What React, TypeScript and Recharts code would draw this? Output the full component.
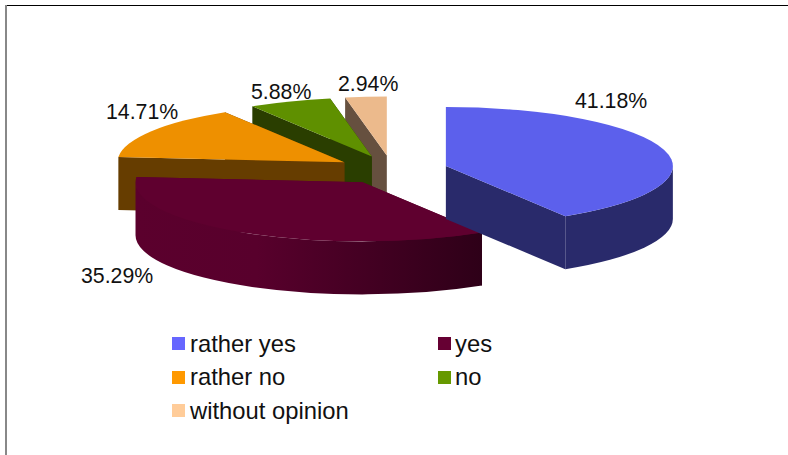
import { PieChart, Pie, Legend } from "recharts";

const categories = ["rather yes", "yes", "rather no", "no", "without opinion"];
const shares = [41.18, 35.29, 14.71, 5.88, 2.94];
const legendColors = ["#6666ff", "#660033", "#ff9900", "#669900", "#ffcc99"];
const topColors = ["#5c60ec", "#5f002f", "#ee9000", "#5f9000", "#ecba8c"];
const wallColors = ["#292a6b", "#5b002d", "#663d00", "#2a3e00", "#66503f"];

// label anchor (left, baseline) per category
const labelSpots = [
  [575, 108],
  [81, 283],
  [106, 119],
  [251, 99],
  [338, 91],
];

const RX = 227;
const RY = 59;
const DEPTH = 53;
const EXPLODE = 56;

// painted back to front, so the slices run counter-clockwise from the last category
const rows = categories
  .map((name, i) => ({
    name,
    value: shares[i],
    top: topColors[i],
    wall: wallColors[i],
    spot: labelSpots[i],
  }))
  .reverse();

const rad = (deg: number) => (deg * Math.PI) / 180;

const Slice3D = (props: any) => {
  const { cx, cy, startAngle, endAngle, payload } = props;
  const lo = Math.min(startAngle, endAngle);
  const hi = Math.max(startAngle, endAngle);
  const mid = rad((lo + hi) / 2);
  const ox = cx + EXPLODE * Math.cos(mid);
  const oy = cy - (EXPLODE * RY * Math.sin(mid)) / RX;
  const px = (a: number) => ox + RX * Math.cos(rad(a));
  const py = (a: number) => oy - RY * Math.sin(rad(a));
  const arc = (from: number, to: number, dy: number, sweep: number) =>
    `A${RX} ${RY} 0 ${Math.abs(to - from) > 180 ? 1 : 0} ${sweep} ${px(to)} ${py(to) + dy}`;

  const radialWall = (a: number) =>
    `M${ox} ${oy}L${px(a)} ${py(a)}L${px(a)} ${py(a) + DEPTH}L${ox} ${oy + DEPTH}Z`;

  // only the lower half of the rim faces the viewer
  const frontLo = Math.max(lo, 180);
  const frontHi = Math.min(hi, 360);
  const rim =
    frontHi > frontLo
      ? `M${px(frontLo)} ${py(frontLo)}${arc(frontLo, frontHi, 0, 0)}` +
        `L${px(frontHi)} ${py(frontHi) + DEPTH}${arc(frontHi, frontLo, DEPTH, 1)}Z`
      : null;
  const rimFill = payload.name === "yes" ? "url(#yesRim)" : payload.wall;

  return (
    <g>
      <path d={radialWall(lo)} fill={payload.wall} />
      <path d={radialWall(hi)} fill={payload.wall} />
      {rim && <path d={rim} fill={rimFill} />}
      <path d={`M${ox} ${oy}L${px(lo)} ${py(lo)}${arc(lo, hi, 0, 0)}Z`} fill={payload.top} />
    </g>
  );
};

const renderLabel = (props: any) => {
  const { payload, value } = props;
  return (
    <text
      x={payload.spot[0]}
      y={payload.spot[1]}
      fontSize={21.3}
      fontFamily="Liberation Sans"
      fill="#111"
      textAnchor="start"
    >
      {value.toFixed(2)}%
    </text>
  );
};

const ChartLegend = () => (
  <div
    style={{
      display: "grid",
      gridTemplateColumns: "266px 100px",
      gridAutoRows: "33.5px",
      fontFamily: "Liberation Sans",
      fontSize: 23.8,
      color: "#111",
    }}
  >
    {categories.map((name, i) => (
      <div key={name} style={{ display: "flex", alignItems: "center", whiteSpace: "nowrap" }}>
        <span style={{ width: 13, height: 13, background: legendColors[i], marginRight: i % 2 ? 4 : 5 }} />
        {name}
      </div>
    ))}
  </div>
);

export default function App() {
  return (
    <div style={{ position: "absolute", left: 0, top: 0, width: 788, height: 455, background: "#fff", overflow: "hidden" }}>
      <div style={{ position: "absolute", left: 5, top: 5, width: 783, height: 1, background: "#000" }} />
      <div style={{ position: "absolute", left: 5, top: 5, width: 2, height: 450, background: "#888" }} />
      <PieChart width={788} height={455} margin={{ top: 0, right: 0, bottom: 0, left: 0 }}>
        <defs>
          <linearGradient id="yesRim" x1="0" y1="0" x2="1" y2="0">
            <stop offset="0%" stopColor="#5b002d" />
            <stop offset="35%" stopColor="#58002c" />
            <stop offset="100%" stopColor="#2e0018" />
          </linearGradient>
        </defs>
        <Pie
          data={rows}
          dataKey="value"
          nameKey="name"
          cx={392}
          cy={170}
          outerRadius={RX}
          startAngle={90}
          endAngle={450}
          stroke="none"
          shape={Slice3D}
          label={renderLabel}
          labelLine={false}
          isAnimationActive={false}
        />
        <Legend
          content={<ChartLegend />}
          wrapperStyle={{ position: "absolute", left: 172, top: 327, width: 400, bottom: "auto" }}
        />
      </PieChart>
    </div>
  );
}
